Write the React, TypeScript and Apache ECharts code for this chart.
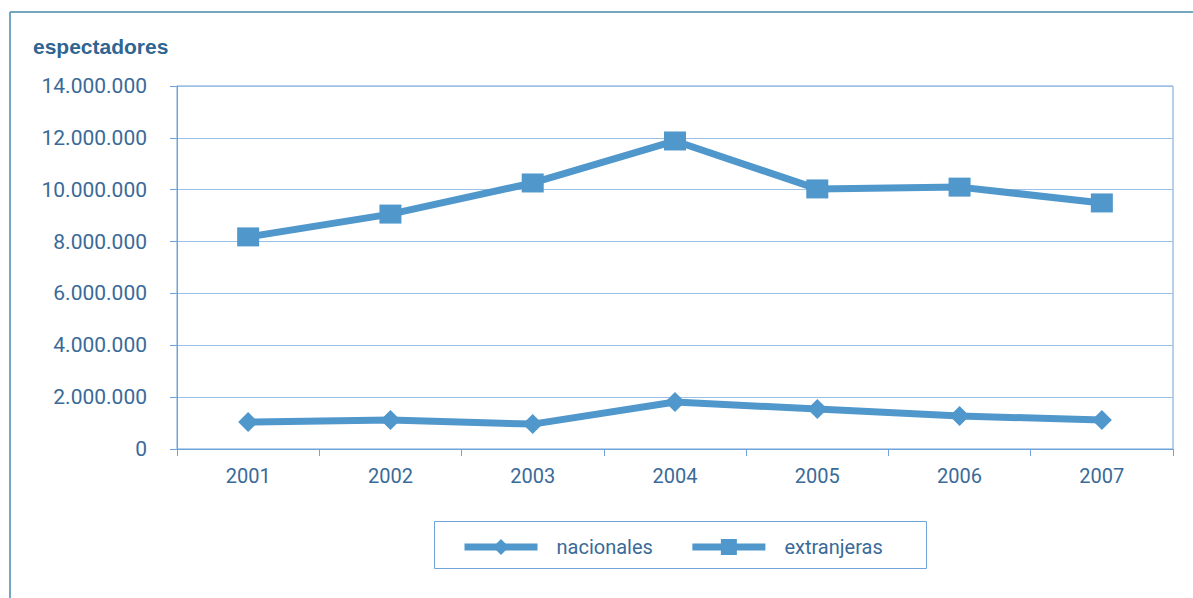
import React, { useEffect, useRef } from "react";
import * as echarts from "echarts";

const years = ["2001", "2002", "2003", "2004", "2005", "2006", "2007"];
const nacionales = [1040000, 1120000, 960000, 1810000, 1540000, 1270000, 1120000];
const extranjeras = [8180000, 9060000, 10260000, 11880000, 10030000, 10100000, 9490000];
const yTicks = [0, 2000000, 4000000, 6000000, 8000000, 10000000, 12000000, 14000000];

const LINE = "#5097cc";
const TEXT = "#3a6a98";
const AXIS = "#6fa3d9";
const GRID = "#9cc0e6";
const FRAME = "#4a88ad";

function fmt(v: number) {
  return String(v).replace(/\B(?=(\d{3})+(?!\d))/g, ".");
}

export default function App() {
  const ref = useRef<HTMLDivElement>(null);
  useEffect(() => {
    if (!ref.current) return;
    const chart = echarts.init(ref.current, undefined, { renderer: "svg" });
    chart.setOption({
      animation: false,
      textStyle: { fontFamily: "Roboto" },
      grid: {
        left: 177,
        right: 20,
        top: 86,
        bottom: 149,
        show: true,
        borderColor: AXIS,
        borderWidth: 1,
      },
      title: {
        text: "espectadores",
        left: 33,
        top: 36,
        padding: 0,
        textStyle: { color: "#2f6592", fontSize: 21, fontWeight: "bold", fontFamily: "Liberation Sans" },
      },
      legend: {
        left: 461,
        top: 537,
        padding: 0,
        itemWidth: 73,
        itemHeight: 20,
        itemGap: 36,
        lineStyle: { width: 7 },
        textStyle: { color: TEXT, fontSize: 20, fontFamily: "Roboto", padding: [0, 0, 0, 14] },
        data: ["nacionales", "extranjeras"],
      },
      graphic: [
        { type: "line", shape: { x1: 10, y1: 12, x2: 1193, y2: 12 }, style: { stroke: FRAME, lineWidth: 1.5 } },
        { type: "line", shape: { x1: 10, y1: 12, x2: 10, y2: 598 }, style: { stroke: FRAME, lineWidth: 1.5 } },
        { type: "rect", shape: { x: 434.5, y: 521.5, width: 492, height: 47 }, style: { fill: "none", stroke: AXIS, lineWidth: 1 }, z: -1 },
      ],
      xAxis: {
        type: "category",
        data: years,
        boundaryGap: true,
        axisLine: { lineStyle: { color: AXIS, width: 1 } },
        axisTick: { show: true, length: 7, lineStyle: { color: AXIS } },
        axisLabel: { color: TEXT, fontSize: 20, margin: 17, fontFamily: "Roboto" },
      },
      yAxis: {
        type: "value",
        min: yTicks[0],
        max: yTicks[yTicks.length - 1],
        interval: yTicks[1] - yTicks[0],
        axisLine: { show: true, lineStyle: { color: AXIS, width: 1 } },
        axisTick: { show: true, length: 7, lineStyle: { color: AXIS } },
        splitLine: { lineStyle: { color: GRID, width: 1 } },
        axisLabel: { color: TEXT, fontSize: 21, margin: 30, fontFamily: "Roboto", formatter: (v: number) => fmt(v) },
      },
      series: [
        {
          name: "nacionales",
          type: "line",
          data: nacionales,
          symbol: "diamond",
          symbolSize: 20,
          color: LINE,
          lineStyle: { color: LINE, width: 7 },
          itemStyle: { color: LINE },
        },
        {
          name: "extranjeras",
          type: "line",
          data: extranjeras,
          symbol: "rect",
          symbolSize: [22, 19],
          color: LINE,
          lineStyle: { color: LINE, width: 7 },
          itemStyle: { color: LINE },
        },
      ],
    });
    return () => chart.dispose();
  }, []);
  return (
    <div
      ref={ref}
      style={{ position: "fixed", left: 0, top: 0, width: 1193, height: 598, background: "#fff" }}
    />
  );
}
